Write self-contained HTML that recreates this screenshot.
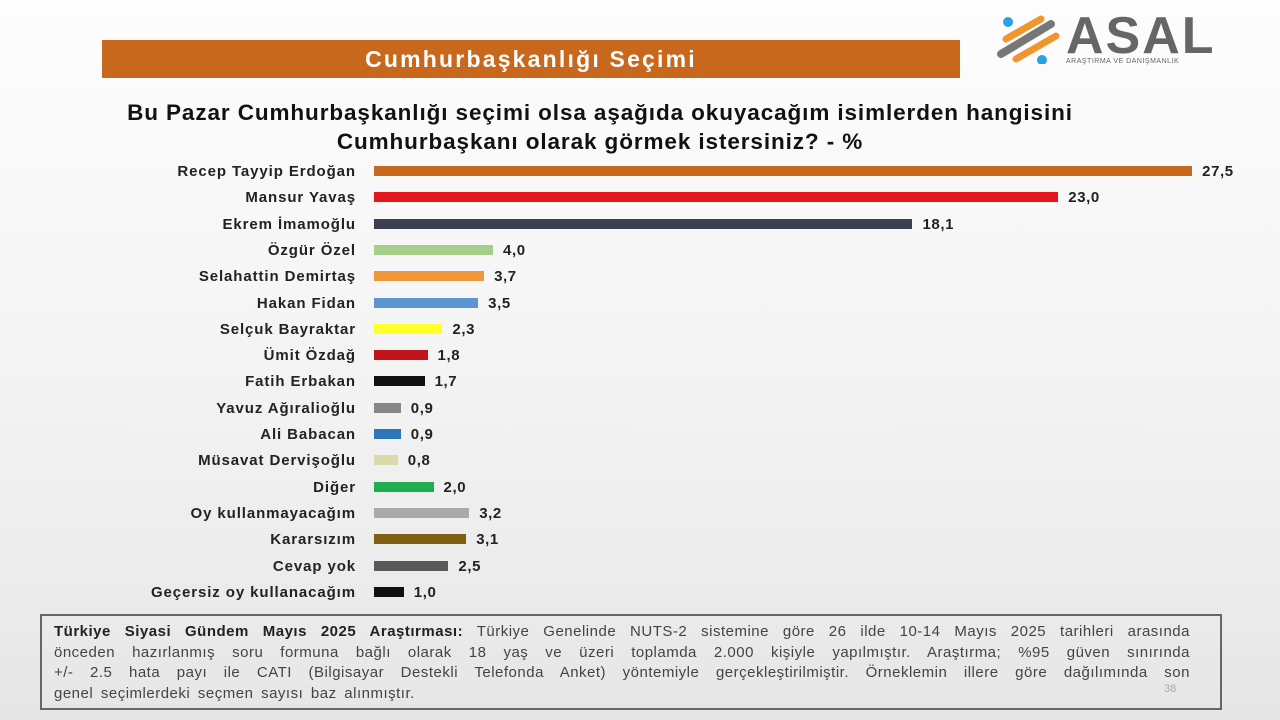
<!DOCTYPE html>
<html><head><meta charset="utf-8"><style>
body{margin:0;width:1280px;height:720px;overflow:hidden;background:linear-gradient(#fdfdfd 0%,#f4f4f4 50%,#e6e6e6 100%);font-family:"Liberation Sans","DejaVu Sans",sans-serif;position:relative}
.hdr{position:absolute;left:102px;top:40px;width:858px;height:38px;background:#c8681c;color:#fff;font-weight:bold;font-size:23px;letter-spacing:2.2px;text-align:center;line-height:38px}
.q{position:absolute;left:0;width:1200px;text-align:center;font-weight:bold;font-size:22.5px;letter-spacing:0.9px;color:#111}
.lab{position:absolute;right:924px;font-weight:bold;font-size:15px;letter-spacing:0.9px;color:#222;text-align:right;white-space:nowrap}
.bar{position:absolute;left:374px;height:10px}
.val{position:absolute;font-weight:bold;font-size:15px;letter-spacing:0.6px;color:#222}
.foot{position:absolute;left:40px;top:614px;width:1182px;height:96px;border:2px solid #666;box-sizing:border-box;padding:6px 30px 0 12px;font-size:15px;letter-spacing:0.5px;line-height:20.5px;color:#444}
.foot div{text-align:justify;text-align-last:justify;white-space:nowrap;overflow:hidden}
.foot b{color:#222}
</style></head><body>
<div class="hdr">Cumhurbaşkanlığı Seçimi</div>
<div style="position:absolute;left:996px;top:14px;width:70px;height:50px">
<svg width="70" height="50"><circle cx="12" cy="8" r="5" fill="#29a3e0"/><circle cx="46" cy="46" r="5" fill="#29a3e0"/><path d="M5 40 L55 10" stroke="#777" stroke-width="8" stroke-linecap="round"/><path d="M10 25 L45 5" stroke="#f0962e" stroke-width="7" stroke-linecap="round"/><path d="M20 45 L60 22" stroke="#f0962e" stroke-width="7" stroke-linecap="round"/></svg></div>
<div style="position:absolute;left:1066px;top:6px;font-weight:bold;font-size:52px;color:#666;letter-spacing:2px">ASAL</div>
<div style="position:absolute;left:1066px;top:58px;font-size:7px;color:#666;letter-spacing:0.5px">ARAŞTIRMA VE DANIŞMANLIK</div>
<div class="q" style="top:100px">Bu Pazar Cumhurbaşkanlığı seçimi olsa aşağıda okuyacağım isimlerden hangisini</div>
<div class="q" style="top:129px">Cumhurbaşkanı olarak görmek istersiniz? - %</div>
<div id="c"></div>
<div class="foot">
<div style="white-space:normal"><b>Türkiye Siyasi Gündem Mayıs 2025 Araştırması:</b> Türkiye Genelinde NUTS-2 sistemine göre 26 ilde 10-14 Mayıs 2025 tarihleri arasında</div>
<div style="white-space:normal">önceden hazırlanmış soru formuna bağlı olarak 18 yaş ve üzeri toplamda 2.000 kişiyle yapılmıştır. Araştırma; %95 güven sınırında</div>
<div style="white-space:normal">+/- 2.5 hata payı ile CATI (Bilgisayar Destekli Telefonda Anket) yöntemiyle gerçekleştirilmiştir. Örneklemin illere göre dağılımında son</div>
<div style="text-align-last:left;word-spacing:3px">genel seçimlerdeki seçmen sayısı baz alınmıştır.</div>
</div>
<div style="position:absolute;left:1164px;top:683px;font-size:11px;color:#aaa">38</div>
<script>
var d=[["Recep Tayyip Erdoğan",27.5,"#c8681c"],["Mansur Yavaş",23.0,"#e3161b"],["Ekrem İmamoğlu",18.1,"#3a3f52"],["Özgür Özel",4.0,"#a6d08a"],["Selahattin Demirtaş",3.7,"#f0963c"],["Hakan Fidan",3.5,"#5b95d2"],["Selçuk Bayraktar",2.3,"#ffff2a"],["Ümit Özdağ",1.8,"#c0141a"],["Fatih Erbakan",1.7,"#111"],["Yavuz Ağıralioğlu",0.9,"#888"],["Ali Babacan",0.9,"#2e75b6"],["Müsavat Dervişoğlu",0.8,"#d9dba8"],["Diğer",2.0,"#1fae4f"],["Oy kullanmayacağım",3.2,"#aaa"],["Kararsızım",3.1,"#7f5f12"],["Cevap yok",2.5,"#5a5a5a"],["Geçersiz oy kullanacağım",1.0,"#111"]];
var h="";d.forEach(function(r,i){var y=171+i*26.3,w=r[1]*29.75;
h+='<div class="lab" style="top:'+(y-8)+'px">'+r[0]+'</div><div class="bar" style="top:'+(y-5)+'px;width:'+w+'px;background:'+r[2]+'"></div><div class="val" style="top:'+(y-8)+'px;left:'+(374+w+10)+'px">'+r[1].toFixed(1).replace(".",",")+'</div>';});
document.getElementById("c").innerHTML=h;
</script>
</body></html>
